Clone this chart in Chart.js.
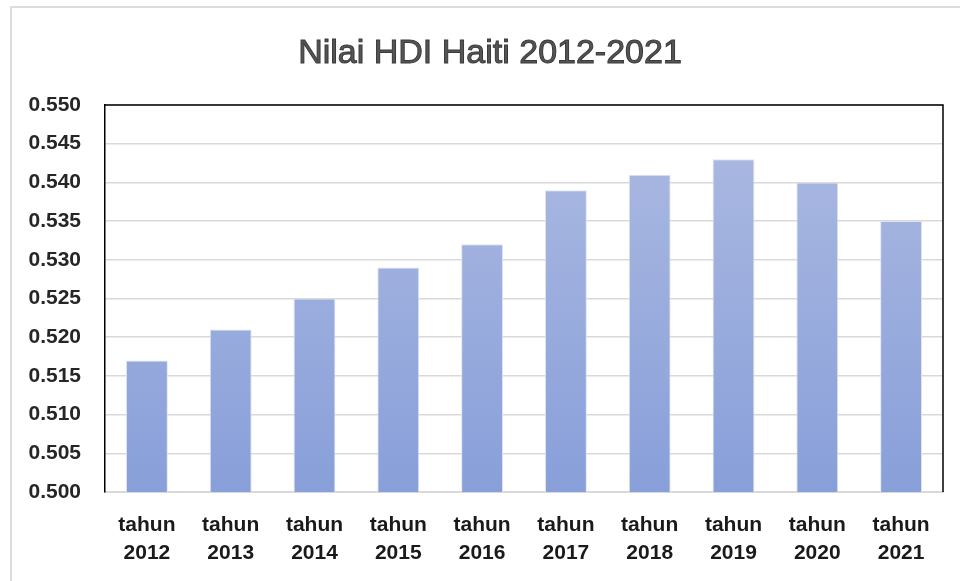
<!DOCTYPE html>
<html lang="id">
<head>
    <meta charset="UTF-8">
    <title>Nilai HDI Haiti 2012-2021</title>
    <script src="https://cdn.jsdelivr.net/npm/chart.js"></script>
    <style>
        html, body { margin: 0; padding: 0; background: #fff; overflow: hidden; }
        #wrap { position: relative; width: 960px; height: 581px; }
        #frame {
            position: absolute; left: 10px; top: 6px; width: 1000px; height: 620px;
            border: 2px solid #dcdcdc; box-sizing: border-box;
        }
        #chart { position: absolute; left: 0; top: 0; }
    </style>
</head>
<body>
<div id="wrap">
    <div id="frame"></div>
    <canvas id="chart" width="960" height="581"></canvas>
</div>
<script>
    // data
    const judul = 'Nilai HDI Haiti 2012-2021';
    const tahun = ['2012', '2013', '2014', '2015', '2016', '2017', '2018', '2019', '2020', '2021'];
    const nilaiHDI = [0.517, 0.521, 0.525, 0.529, 0.532, 0.539, 0.541, 0.543, 0.540, 0.535];
    const yMin = 0.500;
    const yMax = 0.550;
    const yStep = 0.005;

    const labels = tahun.map(t => ['tahun', t]);

    // judul + garis atas dan kanan area plot
    const hiasan = {
        id: 'hiasan',
        afterDraw(chart) {
            const { ctx, chartArea: a } = chart;
            ctx.save();
            ctx.strokeStyle = '#000';
            ctx.lineWidth = 1.5;
            ctx.beginPath();
            ctx.moveTo(a.left, a.top);
            ctx.lineTo(a.right, a.top);
            ctx.lineTo(a.right, a.bottom);
            ctx.stroke();

            ctx.font = '34px "Liberation Sans"';
            ctx.textAlign = 'center';
            ctx.textBaseline = 'alphabetic';
            ctx.lineWidth = 1;
            ctx.strokeStyle = '#3a3a3a';
            ctx.fillStyle = '#555555';
            ctx.fillText(judul, 490, 63);
            ctx.strokeText(judul, 490, 63);
            ctx.restore();
        }
    };

    function barGradient(context) {
        const chart = context.chart;
        const a = chart.chartArea;
        if (!a) return '#98ABDC';
        const g = chart.ctx.createLinearGradient(0, a.top, 0, a.bottom);
        g.addColorStop(0, '#AEBBE2');
        g.addColorStop(1, '#889FD9');
        return g;
    }

    new Chart(document.getElementById('chart'), {
        type: 'bar',
        data: {
            labels: labels,
            datasets: [{
                data: nilaiHDI,
                backgroundColor: barGradient,
                borderColor: '#dfe4f4',
                borderWidth: 1,
                barPercentage: 0.5,
                categoryPercentage: 1.0
            }]
        },
        options: {
            responsive: false,
            animation: false,
            layout: { padding: { left: 10, right: 17, top: 105, bottom: 0 } },
            plugins: {
                legend: { display: false },
                tooltip: { enabled: false },
                title: { display: false }
            },
            scales: {
                x: {
                    afterFit(axis) { axis.height = 89; },
                    grid: { display: false, drawTicks: false },
                    border: { display: true, color: '#d9d9d9', width: 2 },
                    ticks: {
                        color: '#1a1a1a',
                        padding: 19,
                        maxRotation: 0,
                        font: { family: 'Liberation Sans', size: 21, weight: 'bold', lineHeight: 1.33 }
                    }
                },
                y: {
                    min: yMin,
                    max: yMax,
                    afterFit(axis) { axis.width = 95; },
                    grid: { color: '#d9d9d9', lineWidth: 1.5, drawTicks: false },
                    border: { display: true, color: '#000', width: 1.5 },
                    ticks: {
                        stepSize: yStep,
                        padding: 24,
                        color: '#262626',
                        font: { family: 'Liberation Sans', size: 21, weight: 'bold' },
                        callback: v => v.toFixed(3)
                    }
                }
            }
        },
        plugins: [hiasan]
    });
</script>
</body>
</html>
